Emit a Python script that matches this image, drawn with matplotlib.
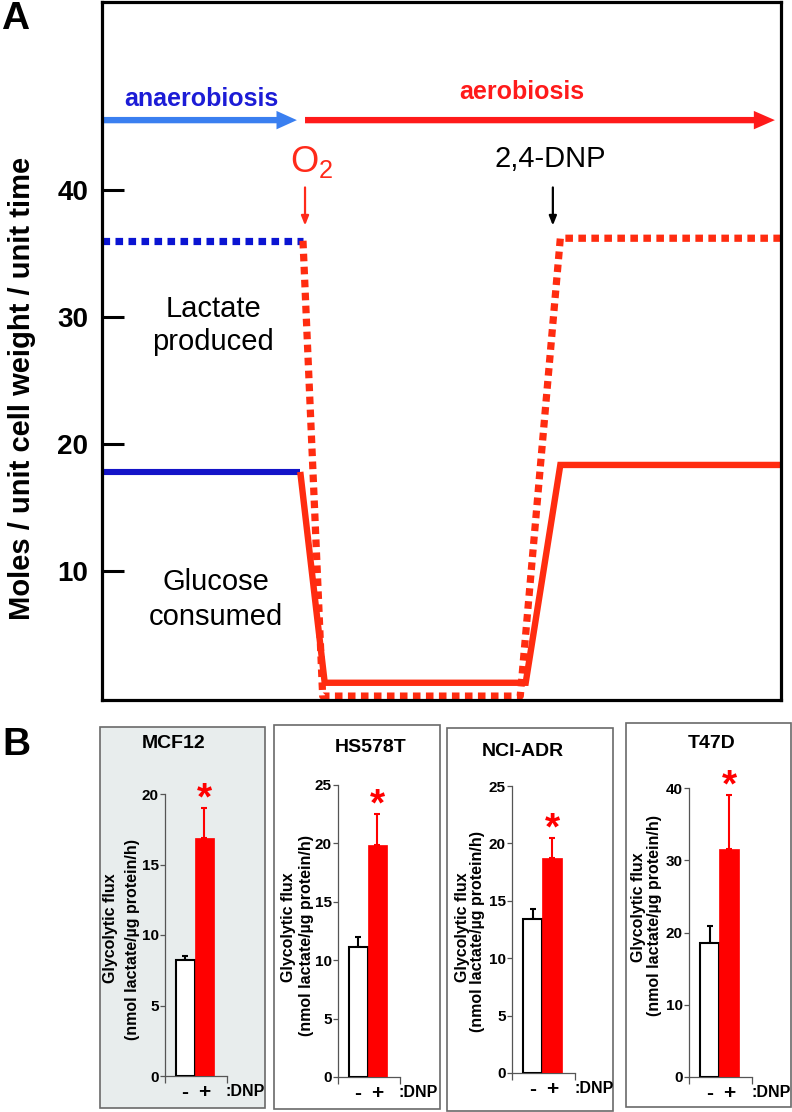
import matplotlib
matplotlib.use('Agg')
import matplotlib.pyplot as plt
from matplotlib.patches import Rectangle

plt.rcParams['font.family'] = ['Liberation Sans', 'DejaVu Sans']

# ---------------- Panel A data ----------------
glu_anaer_t = [0, 29.2]
glu_anaer = [17.8, 17.8]
glu_aer_t = [29.2, 32.8, 62.4, 67.5, 100]
glu_aer = [17.8, 1.2, 1.2, 18.35, 18.35]
lac_anaer_t = [0, 29.6]
lac_anaer = [36.0, 36.0]
lac_aer_t = [29.6, 32.5, 61.6, 67.5, 100]
lac_aer = [36.0, 0.15, 0.15, 36.2, 36.2]
yticks_A = [10, 20, 30, 40]
o2_time = 29.9
dnp_time = 66.4

# ---------------- Panel B data ----------------
cell_lines = ['MCF12', 'HS578T', 'NCI-ADR', 'T47D']
flux_minus = [8.2, 11.1, 13.4, 18.6]
flux_minus_err = [0.3, 0.9, 0.9, 2.3]
flux_plus = [16.9, 19.9, 18.7, 31.5]
flux_plus_err = [2.1, 2.6, 1.8, 7.5]
y_max = [20, 25, 25, 40]
y_step = [5, 5, 5, 10]
dnp_labels = ['-', '+']

W, H = 792, 1112
fig = plt.figure(figsize=(W / 100, H / 100), dpi=100)


def px_axes(l, t, r, b):
    return fig.add_axes([l / W, 1 - b / H, (r - l) / W, (b - t) / H])


def fx(x):
    return x / W


def fy(y):
    return 1 - y / H


# ================= Panel A =================
axA = px_axes(102, 2, 781, 700)
axA.set_xlim(0, 100)
axA.set_ylim(-0.157, 54.8)
for s in axA.spines.values():
    s.set_linewidth(2.3)
    s.set_color('black')
    s.set_zorder(5)
axA.set_xticks([])
axA.set_yticks(yticks_A)
axA.tick_params(axis='y', direction='in', length=16, width=2.2, pad=10,
                labelsize=20)
for lab in axA.get_yticklabels():
    lab.set_fontweight('bold')

red_line = '#ff2c10'
axA.plot(glu_anaer_t, glu_anaer, color='#1414c8', lw=4.4,
         solid_capstyle='butt', zorder=3)
axA.plot(glu_aer_t, glu_aer, color=red_line, lw=4.6,
         solid_capstyle='butt', solid_joinstyle='miter', zorder=3)
axA.plot(lac_anaer_t, lac_anaer, color='#0a14d2', lw=5.2,
         dashes=(1.05, 0.75), dash_capstyle='butt', zorder=2)
axA.plot(lac_aer_t, lac_aer, color=red_line, lw=5.2,
         dashes=(1.05, 0.75), dash_capstyle='butt', zorder=2)

# phase arrows
axA.arrow(0, 45.5, 28.7, 0, width=0.5, head_width=1.45, head_length=3.0,
          length_includes_head=True, color='#3a7ff0', lw=0, zorder=4)
axA.arrow(29.9, 45.5, 99.1 - 29.9, 0, width=0.5, head_width=1.45,
          head_length=3.1, length_includes_head=True, color='#ff1a1a',
          lw=0, zorder=4)
axA.text(14.7, 47.2, 'anaerobiosis', color='#1c1cd6', fontsize=18,
         fontweight='bold', ha='center', va='center')
axA.text(61.9, 47.7, 'aerobiosis', color='#ff1a1a', fontsize=18,
         fontweight='bold', ha='center', va='center')

# O2 and DNP markers
axA.text(27.7, 41.4, r'O$_\mathregular{2}$', color='#ff2a1a', fontsize=26,
         ha='left', va='baseline')
axA.annotate('', xy=(o2_time, 37.2), xytext=(o2_time, 40.2),
             arrowprops=dict(arrowstyle='-|>,head_length=0.55,head_width=0.22',
                             lw=1.6, color='#ff2a1a', shrinkA=0, shrinkB=0))
axA.text(66.0, 41.8, '2,4-DNP', color='black', fontsize=21,
         ha='center', va='baseline')
axA.annotate('', xy=(dnp_time, 37.2), xytext=(dnp_time, 40.2),
             arrowprops=dict(arrowstyle='-|>,head_length=0.55,head_width=0.22',
                             lw=1.6, color='black', shrinkA=0, shrinkB=0))

axA.text(16.4, 30.0, 'Lactate', fontsize=21, ha='center', va='baseline')
axA.text(16.4, 27.4, 'produced', fontsize=21, ha='center', va='baseline')
axA.text(16.8, 8.5, 'Glucose', fontsize=21, ha='center', va='baseline')
axA.text(16.8, 5.75, 'consumed', fontsize=21, ha='center', va='baseline')

fig.text(fx(22), fy(388), 'Moles / unit cell weight / unit time',
         rotation=90, fontsize=21, fontweight='bold', ha='center', va='center')
fig.text(fx(1), fy(29), 'A', fontsize=28, fontweight='bold',
         ha='left', va='baseline')
fig.text(fx(2), fy(755), 'B', fontsize=28, fontweight='bold',
         ha='left', va='baseline')

# ================= Panel B =================
boxes = [(100, 727, 265, 1108), (274, 725, 440, 1109),
         (447, 728, 613, 1111), (626, 723, 791, 1107)]
box_faces = ['#e8eded', 'white', 'white', 'white']
# axes placement: white-bar centre x, unit width, y0 pixel, ymax pixel
ax_place = [(185, 19, 1076, 794), (358, 19, 1077, 785),
            (532.5, 19.5, 1073, 786), (709.5, 19.5, 1077, 788)]
titles_pos = [(174, 744), (371, 747), (523, 751), (712, 743)]
ylab_pos = [((110, 928), (132, 940)), ((288, 927), (307, 935)),
            ((462, 927), (478, 932)), ((638, 907), (654, 915))]
xl, xr = -1.05, 2.2

for i in range(4):
    l, t, r, b = boxes[i]
    rect = Rectangle((fx(l), fy(b)), fx(r - l), (b - t) / H,
                     transform=fig.transFigure, facecolor=box_faces[i],
                     edgecolor='#6a6a6a', lw=1.2, zorder=-10)
    fig.patches.append(rect)

    cx, u, y0, ytop = ax_place[i]
    ax = px_axes(cx + xl * u, ytop, cx + xr * u, y0)
    ax.patch.set_visible(False)
    ax.set_xlim(xl, xr)
    ax.set_ylim(0, y_max[i])
    for s in ['top', 'right']:
        ax.spines[s].set_visible(False)
    for s in ['left', 'bottom']:
        ax.spines[s].set_linewidth(0.9)
        ax.spines[s].set_color('#555555')
    ax.set_yticks(list(range(0, y_max[i] + 1, y_step[i])))
    ax.tick_params(axis='y', direction='out', length=3.5, width=0.9,
                   color='#555555', pad=1, labelsize=11)
    for lab in ax.get_yticklabels():
        lab.set_fontweight('bold')
    ax.set_xticks([xl, xr])
    ax.set_xticklabels(['', ''])
    ax.tick_params(axis='x', direction='out', length=5, width=0.9,
                   color='#555555')

    ax.bar([0], [flux_minus[i]], width=1, color='white', edgecolor='black',
           lw=1.5, zorder=3)
    ax.bar([1], [flux_plus[i]], width=1, color='#ff0000', edgecolor='#ff0000',
           lw=0.5, zorder=3)
    ax.errorbar([0], [flux_minus[i]], yerr=[[0], [flux_minus_err[i]]],
                fmt='none', ecolor='black', elinewidth=1.5, capsize=2.2,
                capthick=1.5, zorder=2)
    ax.errorbar([1], [flux_plus[i]], yerr=[[0], [flux_plus_err[i]]],
                fmt='none', ecolor='#ff0000', elinewidth=1.5, capsize=2.2,
                capthick=1.5, zorder=2)
    ax.annotate('*', xy=(1, flux_plus[i] + flux_plus_err[i]),
                xytext=(0, -1), textcoords='offset points', ha='center',
                va='baseline', color='#ff0000', fontsize=28,
                fontweight='bold', annotation_clip=False)

    for k, lab in enumerate(dnp_labels):
        ax.annotate(lab, xy=(k, 0), xycoords=('data', 'axes fraction'),
                    xytext=(0, -12), textcoords='offset points',
                    ha='center', va='center', fontsize=15,
                    fontweight='bold')
    ax.annotate(':DNP', xy=(xr, 0), xycoords=('data', 'axes fraction'),
                xytext=(-1, -11), textcoords='offset points',
                ha='left', va='center', fontsize=11.5, fontweight='bold')

    tx, ty = titles_pos[i]
    fig.text(fx(tx), fy(ty), cell_lines[i], fontsize=14, fontweight='bold',
             ha='center', va='center')
    (x1, y1), (x2, y2) = ylab_pos[i]
    fig.text(fx(x1), fy(y1), 'Glycolytic flux', rotation=90, fontsize=11.5,
             fontweight='bold', ha='center', va='center')
    fig.text(fx(x2), fy(y2), '(nmol lactate/µg protein/h)', rotation=90,
             fontsize=11.5, fontweight='bold', ha='center', va='center')

fig.savefig('out.png', dpi=100)
